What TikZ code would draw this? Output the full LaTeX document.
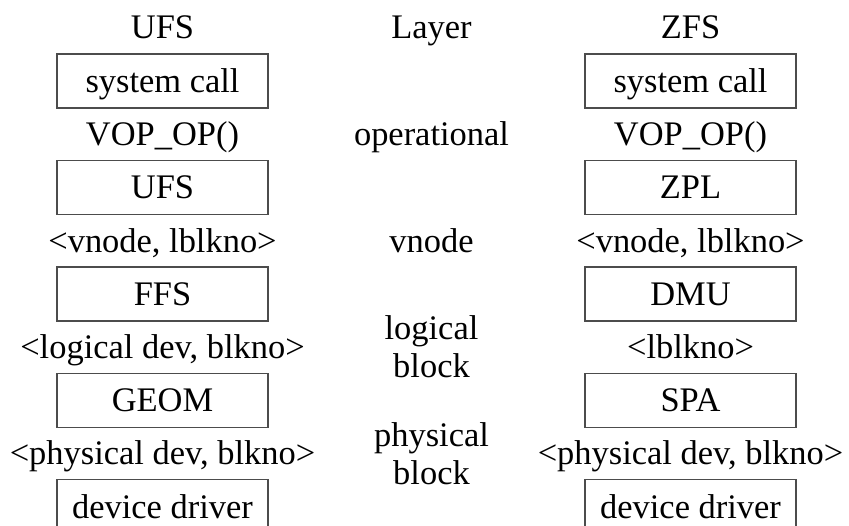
\documentclass[tikz,border=0pt]{standalone}
\usepackage{fontspec}
\setmainfont{Liberation Serif}
\usetikzlibrary{positioning,calc}

\begin{document}
\begin{tikzpicture}[node distance=1.02cm, font=\fontsize{19.6}{21.6}\selectfont]
  \tikzstyle{layer}=[draw=black!70, line width=0.8pt, minimum width=4.22cm, minimum height=1.08cm, inner sep=0pt, text height=0.53cm, text depth=0.07cm]
  \tikzstyle{iface}=[inner sep=0pt, text height=0.53cm, text depth=0.07cm]
  \tikzstyle{level}=[inner sep=0pt, align=center]
  \useasboundingbox (0,0) rectangle (16.98,-10.52);

  % column heads
  \node[iface] (ufshead) at (3.25,-0.55) {UFS};
  \node[iface] (layerhead) at (8.63,-0.55) {Layer};
  \node[iface] (zfshead) at (13.81,-0.55) {ZFS};

  % UFS stack
  \node[layer] (usys) at (3.25,-1.62) {system call};
  \node[layer, below=of usys] (uufs) {UFS};
  \node[layer, below=of uufs] (uffs) {FFS};
  \node[layer, below=of uffs] (ugeom) {GEOM};
  \node[layer, below=of ugeom] (udrv) {device driver};
  \node[iface] (uvop) at ($(usys)!0.5!(uufs)$) {VOP\_OP()};
  \node[iface] (uvn) at ($(uufs)!0.5!(uffs)$) {<vnode, lblkno>};
  \node[iface] (ulog) at ($(uffs)!0.5!(ugeom)$) {<logical dev, blkno>};
  \node[iface] (uphy) at ($(ugeom)!0.5!(udrv)$) {<physical dev, blkno>};

  % ZFS stack
  \node[layer] (zsys) at (13.81,-1.62) {system call};
  \node[layer, below=of zsys] (zzpl) {ZPL};
  \node[layer, below=of zzpl] (zdmu) {DMU};
  \node[layer, below=of zdmu] (zspa) {SPA};
  \node[layer, below=of zspa] (zdrv) {device driver};
  \node[iface] (zvop) at ($(zsys)!0.5!(zzpl)$) {VOP\_OP()};
  \node[iface] (zvn) at ($(zzpl)!0.5!(zdmu)$) {<vnode, lblkno>};
  \node[iface] (zlog) at ($(zdmu)!0.5!(zspa)$) {<lblkno>};
  \node[iface] (zphy) at ($(zspa)!0.5!(zdrv)$) {<physical dev, blkno>};

  % layer names
  \node[iface] (lop) at (layerhead |- uvop) {operational};
  \node[iface] (lvn) at (layerhead |- uvn) {vnode};
  \node[level] (llog) at (layerhead |- ulog) {logical\\block};
  \node[level] (lphy) at (layerhead |- uphy) {physical\\block};
\end{tikzpicture}
\end{document}
